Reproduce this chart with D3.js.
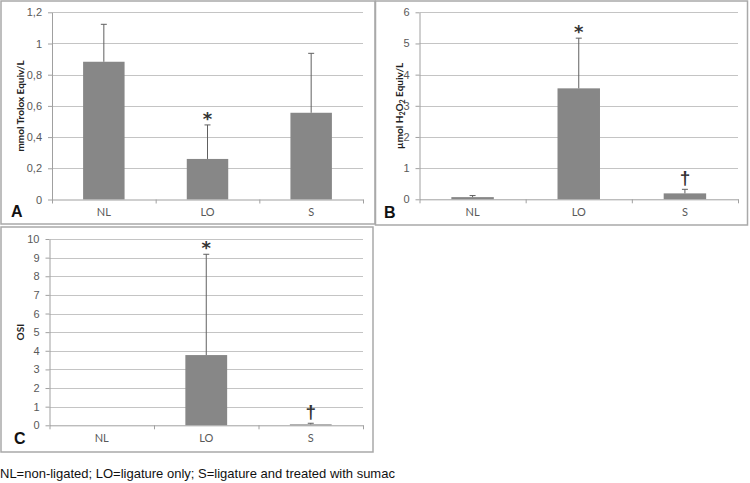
<!DOCTYPE html>
<html>
<head>
<meta charset="utf-8">
<script src="https://cdn.jsdelivr.net/npm/d3@7"></script>
<style>
  body { margin: 0; background: #fff; }
  svg { display: block; }
</style>
</head>
<body>
<div id="chart"></div>
<script>
const categories = ['NL', 'LO', 'S'];

// panel A: total antioxidant status
const tasMeans = [0.883, 0.26, 0.556];
const tasErrors = [0.24, 0.218, 0.381];
const tasTicks = [0, 0.2, 0.4, 0.6, 0.8, 1, 1.2];
const tasMarks = ['', '*', ''];

// panel B: total oxidant status
const tosMeans = [0.07, 3.56, 0.19];
const tosErrors = [0.05, 1.61, 0.13];
const tosTicks = [0, 1, 2, 3, 4, 5, 6];
const tosMarks = ['', '*', '†'];

// panel C: oxidative stress index
const osiMeans = [0, 3.77, 0.05];
const osiErrors = [0, 5.41, 0.06];
const osiTicks = [0, 1, 2, 3, 4, 5, 6, 7, 8, 9, 10];
const osiMarks = ['', '*', '†'];

const footnote = 'NL=non-ligated; LO=ligature only; S=ligature and treated with sumac';

const panels = [
  { letter: 'A', means: tasMeans, errors: tasErrors, ticks: tasTicks, marks: tasMarks,
    frame: [1, 1, 374, 223], plot: { left: 52, right: 363, top: 12.3, bottom: 199.5 },
    title: 'mmol Trolox Equiv/L', titleX: 20, letterPos: [11, 216.5] },
  { letter: 'B', means: tosMeans, errors: tosErrors, ticks: tosTicks, marks: tosMarks,
    frame: [375.5, 1, 372, 224], plot: { left: 419.5, right: 738, top: 12.3, bottom: 199.3 },
    title: 'h2o2', titleX: 399, letterPos: [384, 218] },
  { letter: 'C', means: osiMeans, errors: osiErrors, ticks: osiTicks, marks: osiMarks,
    frame: [1, 227, 372, 225], plot: { left: 49.5, right: 363, top: 239, bottom: 425.3 },
    title: 'OSI', titleX: 20, letterPos: [14, 443.5] }
];

const svg = d3.select('#chart')
  .append('svg')
  .attr('width', 750)
  .attr('height', 483)
  .style('font-family', 'Lato, "Open Sans", sans-serif');

const fmt = v => String(v).replace('.', ',');

panels.forEach(p => {
  const g = svg.append('g');
  const pl = p.plot;

  g.append('rect')
    .attr('x', p.frame[0]).attr('y', p.frame[1])
    .attr('width', p.frame[2]).attr('height', p.frame[3])
    .attr('fill', '#fff')
    .attr('stroke', '#a9a9a9')
    .attr('stroke-width', 1.5);

  const y = d3.scaleLinear()
    .domain([0, d3.max(p.ticks)])
    .range([pl.bottom, pl.top]);

  const x = d3.scaleBand()
    .domain(categories)
    .range([pl.left, pl.right])
    .paddingInner(0.6)
    .paddingOuter(0.3);

  // gridlines
  g.selectAll('.grid')
    .data(p.ticks.filter(t => t > 0))
    .enter()
    .append('line')
    .attr('x1', pl.left).attr('x2', pl.right)
    .attr('y1', d => Math.round(y(d)) + 0.5)
    .attr('y2', d => Math.round(y(d)) + 0.5)
    .attr('stroke', '#c4c4c4');

  // y axis
  const yAxis = g.append('g')
    .attr('transform', `translate(${pl.left},0)`)
    .call(d3.axisLeft(y).tickValues(p.ticks).tickSize(4).tickSizeOuter(0).tickPadding(6).tickFormat(fmt));
  yAxis.selectAll('.domain, .tick line').attr('stroke', '#a0a0a0');
  yAxis.selectAll('text').attr('fill', '#595959').attr('font-size', '11px');

  // bars
  g.selectAll('.bar')
    .data(p.means)
    .enter()
    .append('rect')
    .attr('x', (d, i) => x(categories[i]))
    .attr('y', d => y(d))
    .attr('width', x.bandwidth())
    .attr('height', d => y(0) - y(d))
    .attr('fill', '#878787');

  // upper error bars
  p.means.forEach((m, i) => {
    if (p.errors[i] <= 0) return;
    const cx = x(categories[i]) + x.bandwidth() / 2;
    g.append('line')
      .attr('x1', cx).attr('x2', cx)
      .attr('y1', y(m)).attr('y2', y(m + p.errors[i]))
      .attr('stroke', '#606060');
    g.append('line')
      .attr('x1', cx - 3).attr('x2', cx + 3)
      .attr('y1', y(m + p.errors[i])).attr('y2', y(m + p.errors[i]))
      .attr('stroke', '#606060');
  });

  // x axis with ticks at band edges
  const xEdge = d3.scaleLinear().domain([0, 3]).range([pl.left, pl.right]);
  const xAxis = g.append('g')
    .attr('transform', `translate(0,${pl.bottom})`)
    .call(d3.axisBottom(xEdge).tickValues([0, 1, 2, 3]).tickSize(4).tickSizeOuter(0).tickFormat(''));
  xAxis.selectAll('.domain, .tick line').attr('stroke', '#a0a0a0');

  g.selectAll('.cat')
    .data(categories)
    .enter()
    .append('text')
    .attr('x', d => x(d) + x.bandwidth() / 2)
    .attr('y', pl.bottom + 16.5)
    .attr('text-anchor', 'middle')
    .attr('font-size', '11px')
    .attr('fill', '#595959')
    .text(d => d);

  // significance marks
  g.selectAll('.mark')
    .data(p.marks)
    .enter()
    .append('text')
    .attr('x', (d, i) => x(categories[i]) + x.bandwidth() / 2)
    .attr('y', (d, i) => y(p.means[i] + p.errors[i]) + (d === '*' ? 0 : -5.5))
    .attr('text-anchor', 'middle')
    .attr('font-family', d => d === '*' ? '"DejaVu Sans", sans-serif' : '"Liberation Sans", Arial, sans-serif')
    .attr('font-size', d => d === '*' ? '18px' : '19px')
    .attr('font-weight', 'bold')
    .attr('fill', '#333')
    .text(d => d);

  // axis title
  const cy = (pl.top + pl.bottom) / 2;
  const title = g.append('text')
    .attr('transform', `translate(${p.titleX},${cy}) rotate(-90)`)
    .attr('text-anchor', 'middle')
    .attr('dy', '0.35em')
    .attr('font-size', '10px')
    .attr('font-weight', 'bold')
    .attr('fill', '#222');
  if (p.title === 'h2o2') {
    title.append('tspan').text('µmol H');
    title.append('tspan').attr('font-size', '7px').attr('dy', '2').text('2');
    title.append('tspan').attr('dy', '-2').text('O');
    title.append('tspan').attr('font-size', '7px').attr('dy', '2').text('2');
    title.append('tspan').attr('dy', '-2').text(' Equiv/L');
  } else {
    title.text(p.title);
  }

  // panel letter
  g.append('text')
    .attr('x', p.letterPos[0])
    .attr('y', p.letterPos[1])
    .attr('font-family', '"Liberation Sans", Arial, sans-serif')
    .attr('font-weight', 'bold')
    .attr('font-size', '16px')
    .attr('fill', '#111')
    .text(p.letter);
});

svg.append('text')
  .attr('x', 0)
  .attr('y', 478)
  .attr('font-family', '"Liberation Sans", Arial, sans-serif')
  .attr('font-size', '13px')
  .attr('fill', '#111')
  .text(footnote);
</script>
</body>
</html>
